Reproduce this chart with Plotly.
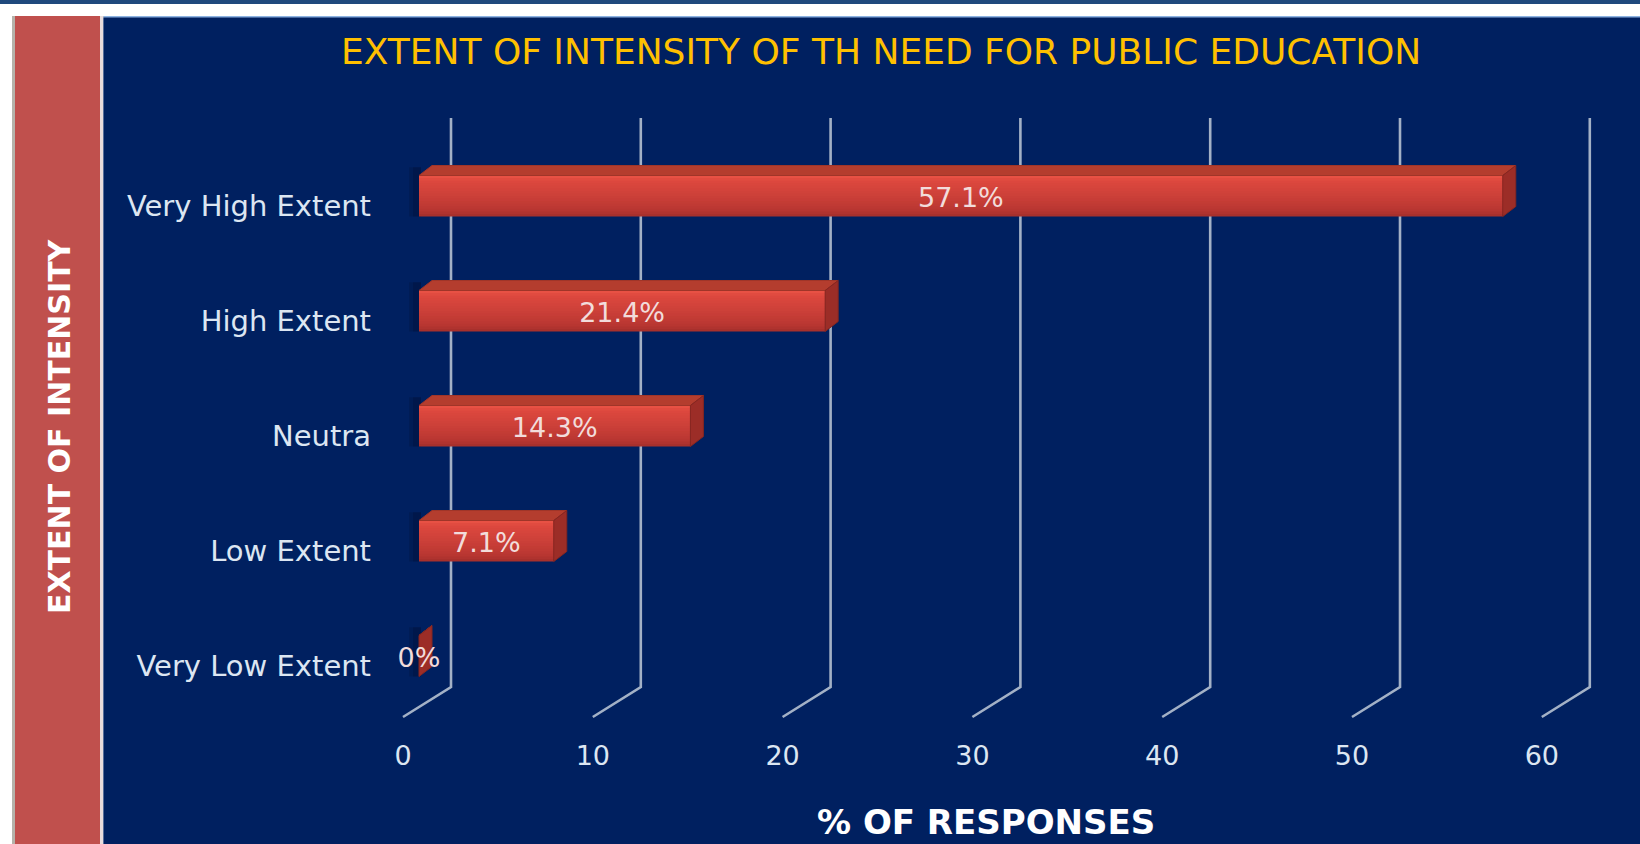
import plotly.graph_objects as go

# ---- data -------------------------------------------------------------
categories = ["Very High Extent", "High Extent", "Neutra", "Low Extent", "Very Low Extent"]
values = [57.1, 21.4, 14.3, 7.1, 0]
value_labels = ["57.1%", "21.4%", "14.3%", "7.1%", "0%"]
x_ticks = [0, 10, 20, 30, 40, 50, 60]

TITLE = "EXTENT OF INTENSITY OF TH NEED FOR PUBLIC EDUCATION"
X_TITLE = "% OF RESPONSES"
Y_TITLE = "EXTENT OF INTENSITY"

# ---- page geometry ----------------------------------------------------
W, H = 1640, 844
FONT = "DejaVu Sans"
NAVY = "#002060"

PX_PER_UNIT = 18.98          # horizontal pixels per percentage point
ROW = 115.0                  # vertical pixels per category row
BAR_X0, ROW0 = 419.0, 196.0  # bar plane: value 0 / first row centre
FRONT_X0 = 403.0             # front plane (tick labels)
BACK_X0 = 451.0              # back wall (grid lines)
LABEL_ROW0 = 206.0           # category label centre for first row

idx = list(range(len(categories)))


def xrange_for(x0):
    return [-x0 / PX_PER_UNIT, (W - x0) / PX_PER_UNIT]


def yrange_for(y0):
    return [(H - y0) / ROW, -y0 / ROW]


def ux(pix):  # pixel offset -> x units
    return pix / PX_PER_UNIT


def uy(pix):  # pixel offset -> y units (down is positive)
    return pix / ROW


def px(x):
    return x / W


def py(y):
    return 1 - y / H


def mix(c1, c2, t):
    a = [int(c1[k:k + 2], 16) for k in (1, 3, 5)]
    b = [int(c2[k:k + 2], 16) for k in (1, 3, 5)]
    return "#" + "".join(f"{round(p + (q - p) * t):02X}" for p, q in zip(a, b))


# depth of the 3-D bars and half height of the bar face
DX, DY = ux(13), -uy(10)
HH = uy(20.5)
BAR_W = 2 * HH

fig = go.Figure()

# soft shadow behind the left end of each bar (two layers to feather the edge)
for width_px, alpha in ((10, 0.18), (6, 0.22)):
    fig.add_trace(go.Bar(
        x=[ux(width_px + 2)] * len(values), base=[-ux(width_px)] * len(values),
        y=idx, orientation="h",
        width=BAR_W * 1.2, offset=-HH - BAR_W * 0.2,
        marker=dict(color=f"rgba(0,10,40,{alpha})", line=dict(width=0)),
        hoverinfo="skip", showlegend=False,
    ))

# front face of the bars, layered from the bottom up for a top-lit gradient
stops = [(0.0, "#EC5446"), (0.12, "#DE483E"), (0.5, "#CC4039"), (0.85, "#B83631"), (1.0, "#A42E2B")]
N = 16
for k in range(N):
    frac = 1 - k / N               # this layer covers the top `frac` of the face
    t = frac - 0.5 / N             # colour sampled at the lower edge of the layer
    for (s0, c0), (s1, c1) in zip(stops[:-1], stops[1:]):
        if s0 <= t <= s1:
            color = mix(c0, c1, (t - s0) / (s1 - s0))
            break
    fig.add_trace(go.Bar(
        x=values, y=idx, orientation="h",
        width=BAR_W * frac, offset=-HH,
        marker=dict(color=color, line=dict(width=0)),
        hoverinfo="skip", showlegend=False,
    ))

# top and side faces
top_x, top_y, side_x, side_y = [], [], [], []
for i, v in zip(idx, values):
    t = i - HH
    b = i + HH
    top_x += [0, v, v + DX, DX, 0, None]
    top_y += [t, t, t + DY, t + DY, t, None]
    side_x += [v, v + DX, v + DX, v, v, None]
    side_y += [t, t + DY, b + DY, b, t, None]

fig.add_trace(go.Scatter(
    x=top_x, y=top_y, mode="lines", fill="toself",
    fillcolor="#B43D2E", line=dict(color="#A03528", width=1),
    hoverinfo="skip", showlegend=False,
))
fig.add_trace(go.Scatter(
    x=side_x, y=side_y, mode="lines", fill="toself",
    fillcolor="#9C2D27", line=dict(color="#862620", width=1),
    hoverinfo="skip", showlegend=False,
))

# value labels in the middle of each bar face
fig.add_trace(go.Scatter(
    x=[v / 2 for v in values], y=[i + uy(4) for i in idx], mode="text", text=value_labels,
    textposition="middle center",
    textfont=dict(family=FONT, size=27, color="#F2DCDB"),
    hoverinfo="skip", showlegend=False,
))

# carrier for the front-plane tick axis and category label axis
fig.add_trace(go.Scatter(
    x=[None], y=[None], xaxis="x2", yaxis="y2",
    hoverinfo="skip", showlegend=False,
))

# ---- background panels ------------------------------------------------
shapes = [
    dict(type="rect", xref="paper", yref="paper", x0=0, x1=1, y0=py(0), y1=py(4),
         fillcolor="#1F497D", line_width=0, layer="below"),
    dict(type="rect", xref="paper", yref="paper", x0=px(12), x1=1, y0=py(16), y1=0,
         fillcolor="#B5B2AA", line_width=0, layer="below"),
    dict(type="rect", xref="paper", yref="paper", x0=px(15), x1=px(100), y0=py(16), y1=0,
         fillcolor="#C0504D", line_width=0, layer="below"),
    dict(type="rect", xref="paper", yref="paper", x0=px(100), x1=px(103.5), y0=py(16), y1=0,
         fillcolor="#E9DCDC", line_width=0, layer="below"),
    dict(type="rect", xref="paper", yref="paper", x0=px(103.5), x1=1, y0=py(16), y1=0,
         fillcolor="#8DB3E2", line_width=0, layer="below"),
    dict(type="rect", xref="paper", yref="paper", x0=px(103.5), x1=1, y0=py(17.5), y1=0,
         fillcolor=NAVY, line_width=0, layer="below"),
]

# back-wall grid lines with the floor slant toward the front plane
g_top, g_back, g_front = uy(118 - ROW0), uy(687 - ROW0), uy(717 - ROW0)
back_off = ux(BACK_X0 - BAR_X0)
front_off = ux(FRONT_X0 - BAR_X0)
for t in x_ticks:
    xb, xf = t + back_off, t + front_off
    shapes.append(dict(
        type="path", xref="x", yref="y", layer="below",
        path=f"M {xb},{g_top} L {xb},{g_back} L {xf},{g_front}",
        line=dict(color="#A3B1C6", width=2.6),
    ))

annotations = [
    dict(text=TITLE, xref="paper", yref="paper", x=px(881), y=py(52),
         showarrow=False, xanchor="center", yanchor="middle",
         font=dict(family=FONT, size=36, color="#FFC000")),
    dict(text=f"<b>{X_TITLE}</b>", xref="paper", yref="paper", x=px(986), y=py(822),
         showarrow=False, xanchor="center", yanchor="middle",
         font=dict(family=FONT, size=34, color="#FFFFFF")),
    dict(text=f"<b>{Y_TITLE}</b>", xref="paper", yref="paper", x=px(59), y=py(426),
         showarrow=False, xanchor="center", yanchor="middle", textangle=-90,
         font=dict(family=FONT, size=30, color="#FFFFFF")),
]

fig.update_layout(
    width=W, height=H,
    margin=dict(l=0, r=0, t=0, b=0),
    paper_bgcolor="#FFFFFF",
    plot_bgcolor="rgba(0,0,0,0)",
    barmode="overlay",
    showlegend=False,
    shapes=shapes,
    annotations=annotations,
    xaxis=dict(domain=[0, 1], range=xrange_for(BAR_X0), visible=False, fixedrange=True),
    yaxis=dict(domain=[0, 1], range=yrange_for(ROW0), visible=False, fixedrange=True),
    xaxis2=dict(
        overlaying="x", anchor="free", position=py(737), side="bottom",
        range=xrange_for(FRONT_X0), tickmode="array", tickvals=x_ticks,
        ticktext=[str(t) for t in x_ticks], showgrid=False, zeroline=False,
        showline=False, ticks="", fixedrange=True,
        tickfont=dict(family=FONT, size=27, color="#DCE6F2"),
    ),
    yaxis2=dict(
        overlaying="y", anchor="free", position=px(371), side="left",
        range=yrange_for(LABEL_ROW0), tickmode="array", tickvals=idx,
        ticktext=categories, showgrid=False, zeroline=False,
        showline=False, ticks="", fixedrange=True,
        tickfont=dict(family=FONT, size=29, color="#DCE6F2"),
    ),
)

fig.write_html("out.html")
